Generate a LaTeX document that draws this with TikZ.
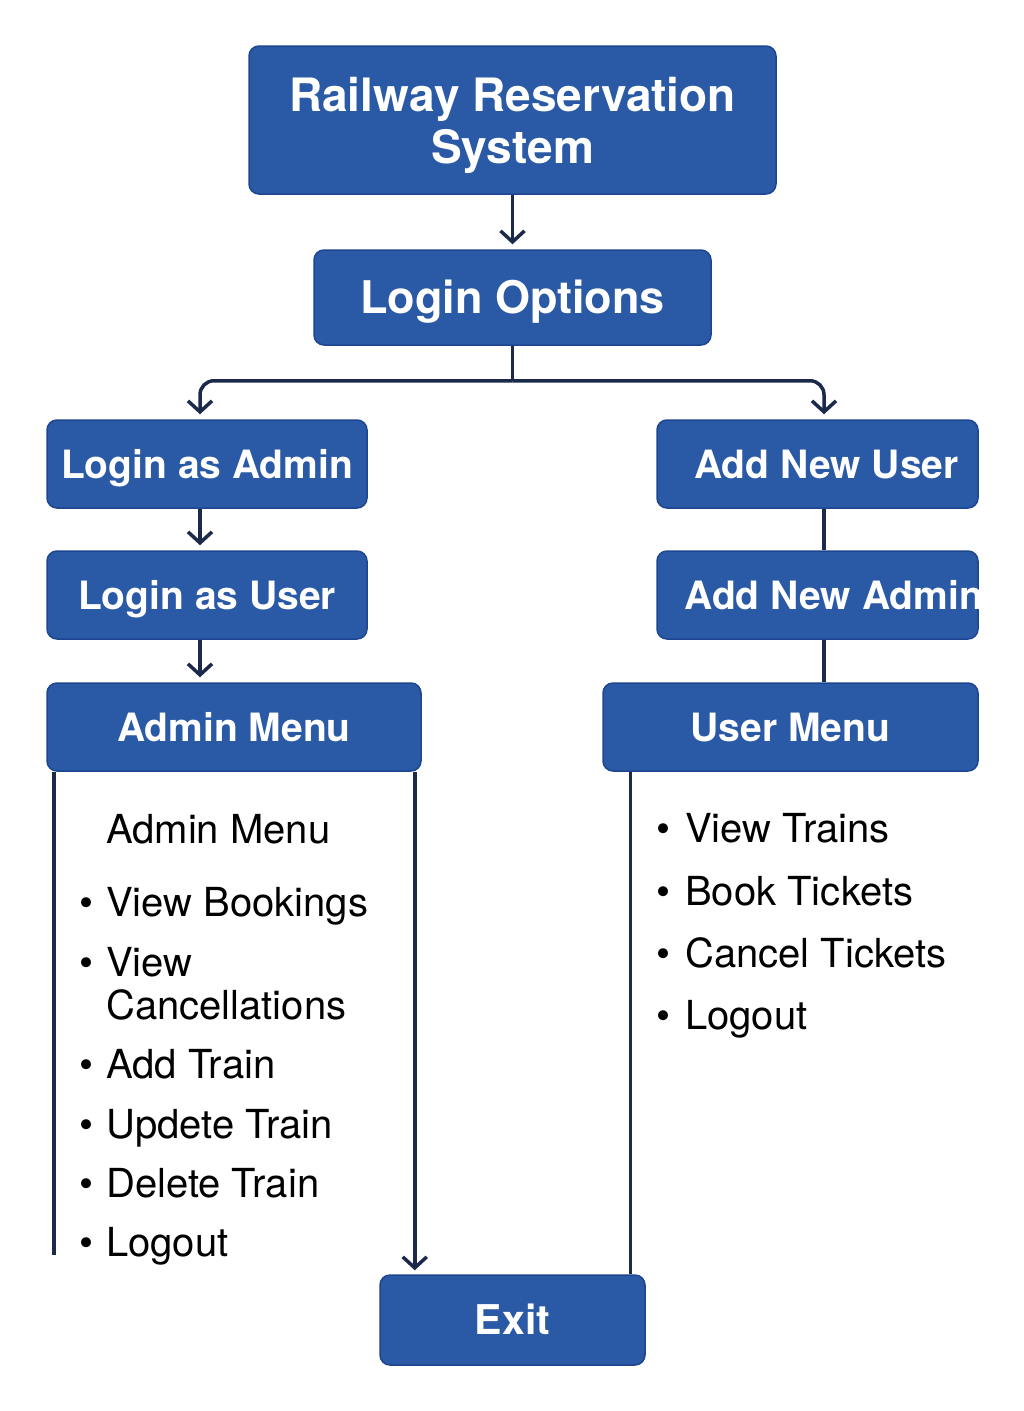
\documentclass[tikz,border=0pt]{standalone}
\usepackage{fontspec}
\setmainfont{TeX Gyre Heros}
\usetikzlibrary{arrows.meta,positioning,calc}

\definecolor{boxblue}{HTML}{2A5AA6}
\definecolor{boxedge}{HTML}{1E4690}
\definecolor{linknavy}{HTML}{1B2A4A}

\tikzset{
  menubox/.style={fill=boxblue,draw=boxedge,line width=1.5pt,rounded corners=10pt,
    text=white,font=\bfseries\fontsize{39}{44}\selectfont,inner sep=0pt,
    text height=28pt,text depth=0pt},
  boxtext/.style={text=white,font=\bfseries\fontsize{39}{44}\selectfont,inner sep=0pt,
    text height=28pt,text depth=0pt},
  link/.style={draw=linknavy,line width=3.5pt},
  arr/.style={link,shorten >=5pt,-{Straight Barb[length=11pt,width=24pt,line width=3.5pt]}},
  item/.style={anchor=base west,inner sep=0pt,font=\fontsize{40}{46}\selectfont},
}

\begin{document}
\begin{tikzpicture}[x=1pt,y=-1pt]
  \useasboundingbox (0,0) rectangle (1024,1411);
  \fill[white] (0,0) rectangle (1024,1411);

  % boxes
  \node[menubox,minimum width=527pt,minimum height=148pt] (rrs) at (512.5,120) {};
  \node[boxtext,align=center,text height=,text depth=,
    font=\bfseries\fontsize{46}{52}\selectfont] (rrstxt) at (512.5,125) {Railway Reservation\\System};
  \node[menubox,minimum width=397pt,minimum height=95pt,text height=32.5pt,
    font=\bfseries\fontsize{45}{50}\selectfont] (lopt) at (512.5,297.5) {Login Options};
  \node[menubox,minimum width=320pt,minimum height=88pt] (ladmin) at (207,464) {Login as Admin};
  \node[menubox,minimum width=320pt,minimum height=88pt] (luser) at (207,595) {Login as User};
  \node[menubox,minimum width=321pt,minimum height=88pt] (anuser) at (817.5,464) {\hspace*{18pt}Add New User};
  \node[menubox,minimum width=321pt,minimum height=88pt] (anadmin) at (817.5,595) {};
  \node[boxtext,right=28pt of anadmin.west] (anadmintxt) {Add New Admin};
  \node[menubox,minimum width=374pt,minimum height=88pt] (amenu) at (234,727) {Admin Menu};
  \node[menubox,minimum width=375pt,minimum height=88pt] (umenu) at (790.5,727) {User Menu};
  \node[menubox,minimum width=265pt,minimum height=90pt,text height=29.5pt,
    font=\bfseries\fontsize{41}{46}\selectfont] (exit) at (512.5,1320) {Exit};

  % admin menu items
  \node[item] (atitle) at (106,843) {Admin Menu};
  \node[item] (a1) at (79,916) {\makebox[27pt][l]{\textbullet}View Bookings};
  \node[item] (a2) at (79,976) {\makebox[27pt][l]{\textbullet}View};
  \node[item] (a2b) at (106,1019) {Cancellations};
  \node[item] (a3) at (79,1078) {\makebox[27pt][l]{\textbullet}Add Train};
  \node[item] (a4) at (79,1138) {\makebox[27pt][l]{\textbullet}Updete Train};
  \node[item] (a5) at (79,1197) {\makebox[27pt][l]{\textbullet}Delete Train};
  \node[item] (a6) at (79,1256) {\makebox[27pt][l]{\textbullet}Logout};

  % user menu items
  \node[item] (u1) at (656,842) {\makebox[29pt][l]{\textbullet}View Trains};
  \node[item] (u2) at (656,905) {\makebox[29pt][l]{\textbullet}Book Tickets};
  \node[item] (u3) at (656,967) {\makebox[29pt][l]{\textbullet}Cancel Tickets};
  \node[item] (u4) at (656,1029) {\makebox[29pt][l]{\textbullet}Logout};

  % connectors
  \coordinate (fork) at ($(lopt.south)+(0,35)$);
  \coordinate (aleftend) at (54,1255);
  \coordinate (arail) at ($(amenu.south east)+(-7,0)$);
  \coordinate (urail) at ($(umenu.south west)+(28,0)$);
  \begin{scope}
    \draw[arr] (rrs.south) -- (lopt.north);
    \draw[link] (lopt.south) -- (fork);
    \draw[arr,rounded corners=14pt] (fork) -| ([xshift=-7pt]ladmin.north);
    \draw[arr,rounded corners=14pt] (fork) -| ([xshift=6.5pt]anuser.north);
    \draw[arr] ([xshift=-7pt]ladmin.south) -- ([xshift=-7pt]luser.north);
    \draw[arr] ([xshift=-7pt]luser.south) -- ([xshift=-7pt]amenu.north west -| luser.south);
    \draw[link] ([xshift=6.5pt]anuser.south) -- ([xshift=6.5pt]anadmin.north);
    \draw[link] ([xshift=6.5pt]anadmin.south) -- ([xshift=6.5pt]anadmin.south |- umenu.north);
    \draw[link] (aleftend |- amenu.south) -- (aleftend);
    \draw[arr,shorten >=4pt] (arail) -- (arail |- exit.north);
    \draw[link] (urail) -- (urail |- exit.north);
  \end{scope}
\end{tikzpicture}
\end{document}
